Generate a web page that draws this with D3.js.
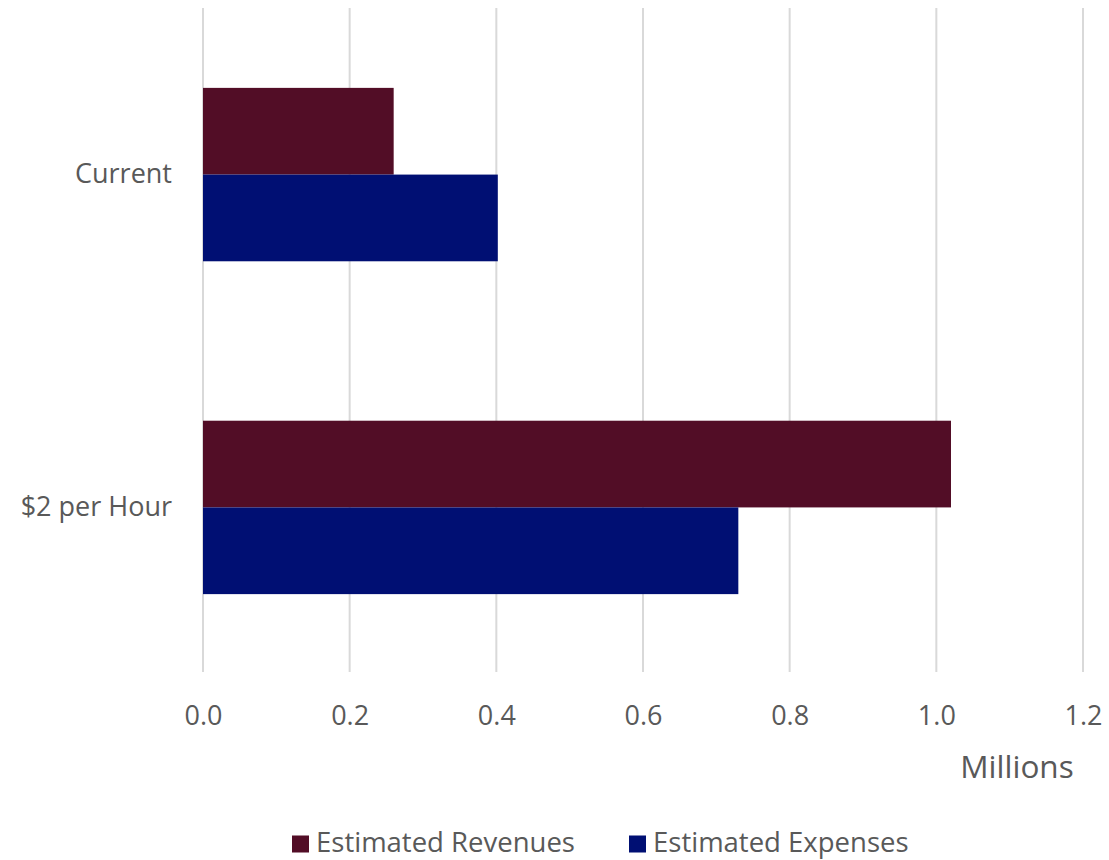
<!DOCTYPE html>
<html>
<head>
<meta charset="utf-8">
<script src="https://cdn.jsdelivr.net/npm/d3@7"></script>
<style>
  body { margin: 0; background: #fff; }
  text { font-family: "Open Sans", "Noto Sans", sans-serif; fill: #595959; }
</style>
</head>
<body>
<div id="chart"></div>
<script>
// chart data
const categories = ["Current", "$2 per Hour"];
const seriesNames = ["Estimated Revenues", "Estimated Expenses"];
const revenues = [0.26, 1.02];
const expenses = [0.402, 0.73];
const xTicks = [0, 0.2, 0.4, 0.6, 0.8, 1.0, 1.2];
const colors = ["#520D26", "#000F73"];

const W = 1109, H = 860;
const margin = { top: 8, right: 26, bottom: 188, left: 203 };
const width = W - margin.left - margin.right,
    height = H - margin.top - margin.bottom;

const svg = d3.select("#chart")
    .append("svg")
    .attr("width", W)
    .attr("height", H);

const g = svg.append("g")
    .attr("transform", `translate(${margin.left},${margin.top})`);

const x = d3.scaleLinear()
    .domain([0, 1.2])
    .range([0, width]);

const y = d3.scaleBand()
    .domain(categories)
    .range([0, height + 2])
    .paddingInner(0.479)
    .paddingOuter(0.24);

const ySub = d3.scaleBand()
    .domain(seriesNames)
    .range([0, y.bandwidth()]);

// gridlines
g.selectAll(".grid")
    .data(xTicks)
    .enter()
    .append("line")
    .attr("x1", d => x(d))
    .attr("x2", d => x(d))
    .attr("y1", 0)
    .attr("y2", height)
    .attr("stroke", "#d9d9d9")
    .attr("stroke-width", 2);

// bars
const rows = categories.map((c, i) => ({ cat: c, vals: [revenues[i], expenses[i]] }));

const groups = g.selectAll(".grp")
    .data(rows)
    .enter()
    .append("g")
    .attr("transform", d => `translate(0,${y(d.cat)})`);

groups.selectAll("rect")
    .data(d => d.vals.map((v, j) => ({ key: seriesNames[j], v, j })))
    .enter()
    .append("rect")
    .attr("x", x(0))
    .attr("y", d => ySub(d.key))
    .attr("width", d => x(d.v) - x(0))
    .attr("height", ySub.bandwidth())
    .attr("fill", d => colors[d.j]);

// x axis labels
const xAxis = g.append("g")
    .attr("transform", `translate(0,${height})`)
    .call(d3.axisBottom(x).tickValues(xTicks).tickFormat(d3.format(".1f")).tickSize(0).tickPadding(34));
xAxis.select(".domain").remove();
xAxis.selectAll("text")
    .style("font-size", "27px")
    .attr("fill", "#595959");

// y axis labels
const yAxis = g.append("g")
    .call(d3.axisLeft(y).tickSize(0).tickPadding(31));
yAxis.select(".domain").remove();
yAxis.selectAll("text")
    .style("font-size", "27px")
    .attr("fill", "#595959");

// units label
svg.append("text")
    .attr("x", 1017)
    .attr("y", 778)
    .attr("text-anchor", "middle")
    .style("font-size", "31.5px")
    .text("Millions");

// legend
const legend = svg.append("g")
    .attr("transform", "translate(292,844)");
const legendX = [0, 337];
seriesNames.forEach((name, i) => {
    const item = legend.append("g").attr("transform", `translate(${legendX[i]},0)`);
    item.append("rect")
        .attr("x", 0)
        .attr("y", -8.5)
        .attr("width", 17)
        .attr("height", 17)
        .attr("fill", colors[i]);
    item.append("text")
        .attr("x", 24)
        .attr("y", 8)
        .style("font-size", "27.5px")
        .text(name);
});
</script>
</body>
</html>
